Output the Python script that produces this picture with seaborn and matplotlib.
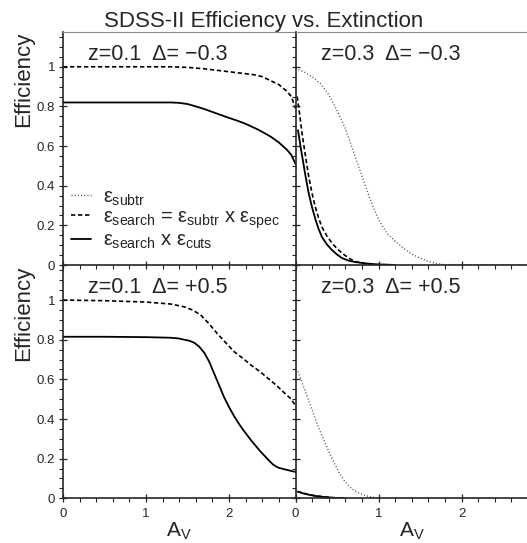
import numpy as np
import pandas as pd
import matplotlib
matplotlib.use("Agg")
import matplotlib.pyplot as plt
from matplotlib.lines import Line2D
from matplotlib.ticker import MultipleLocator, FormatStrFormatter
import seaborn as sns

# --- data (A_V, efficiency) ---
# z=0.1, Delta=-0.3
tl_search_av = [0, 1.3, 1.5, 1.7, 1.9, 2.1, 2.3, 2.4, 2.5, 2.6, 2.7, 2.75, 2.8]
tl_search = [1.0, 1.0, 0.997, 0.99, 0.98, 0.97, 0.96, 0.95, 0.93, 0.91, 0.875, 0.85, 0.79]
tl_cuts_av = [0, 1.3, 1.4, 1.5, 1.6, 1.7, 1.8, 1.9, 2.0, 2.1, 2.2, 2.35, 2.5, 2.6,
              2.7, 2.75, 2.8]
tl_cuts = [0.82, 0.82, 0.818, 0.812, 0.80, 0.787, 0.772, 0.757, 0.742, 0.728, 0.712,
           0.683, 0.648, 0.618, 0.58, 0.555, 0.51]

# z=0.3, Delta=-0.3
tr_subtr_av = [0, 0.1, 0.2, 0.3, 0.4, 0.5, 0.6, 0.7, 0.8, 0.9, 1.0, 1.1, 1.2, 1.3,
               1.4, 1.5, 1.6, 1.7, 1.8, 2.8]
tr_subtr = [0.99, 0.975, 0.95, 0.915, 0.86, 0.78, 0.69, 0.57, 0.45, 0.33, 0.23, 0.16,
            0.12, 0.085, 0.055, 0.035, 0.018, 0.007, 0.002, 0.0]
tr_search_av = [0.02, 0.05, 0.08, 0.12, 0.16, 0.2, 0.24, 0.28, 0.32, 0.38, 0.44, 0.5,
                0.56, 0.64, 0.72, 0.85, 1.0]
tr_search = [0.85, 0.76, 0.66, 0.55, 0.445, 0.36, 0.29, 0.235, 0.19, 0.145, 0.11,
             0.083, 0.06, 0.035, 0.017, 0.006, 0.0]
tr_cuts_av = [0.03, 0.06, 0.08, 0.12, 0.16, 0.2, 0.24, 0.28, 0.32, 0.38, 0.44, 0.5,
              0.56, 0.64, 0.72, 0.84, 0.96, 1.2]
tr_cuts = [0.68, 0.6, 0.55, 0.45, 0.36, 0.29, 0.23, 0.18, 0.14, 0.103, 0.075, 0.053,
           0.035, 0.022, 0.015, 0.008, 0.004, 0.0]

# z=0.1, Delta=+0.5
bl_search_av = [0, 0.5, 1.0, 1.3, 1.46, 1.56, 1.66, 1.76, 1.86, 1.96, 2.06, 2.17, 2.27,
                2.37, 2.47, 2.57, 2.67, 2.75, 2.81]
bl_search = [1.0, 0.997, 0.99, 0.98, 0.966, 0.95, 0.924, 0.88, 0.83, 0.785, 0.74, 0.705,
             0.67, 0.64, 0.605, 0.57, 0.53, 0.5, 0.46]
bl_cuts_av = [0, 0.5, 1.0, 1.3, 1.4, 1.46, 1.52, 1.58, 1.64, 1.7, 1.76, 1.82, 1.88,
              1.94, 2.0, 2.06, 2.12, 2.17, 2.27, 2.37, 2.47, 2.53, 2.59, 2.65, 2.7, 2.81]
bl_cuts = [0.815, 0.815, 0.813, 0.81, 0.806, 0.80, 0.795, 0.785, 0.765, 0.735, 0.69,
           0.63, 0.57, 0.51, 0.46, 0.415, 0.375, 0.345, 0.29, 0.24, 0.195, 0.17, 0.155,
           0.148, 0.143, 0.132]

# z=0.3, Delta=+0.5
br_subtr_av = [0.03, 0.1, 0.17, 0.23, 0.29, 0.35, 0.41, 0.47, 0.53, 0.59, 0.65, 0.71,
               0.77, 0.85, 0.93, 1.05, 2.4]
br_subtr = [0.64, 0.56, 0.48, 0.41, 0.345, 0.285, 0.227, 0.175, 0.126, 0.088, 0.058,
            0.038, 0.025, 0.013, 0.006, 0.0, 0.0]
br_search_av = [0.02, 0.1, 0.17, 0.25, 0.33, 0.45, 0.6]
br_search = [0.035, 0.025, 0.018, 0.012, 0.008, 0.003, 0.0]
br_cuts_av = [0.03, 0.1, 0.17, 0.25, 0.33, 0.45, 0.6]
br_cuts = [0.033, 0.024, 0.017, 0.011, 0.007, 0.003, 0.0]

panel_labels = {
    "tl": "z=0.1  \u0394= \u22120.3",
    "tr": "z=0.3  \u0394= \u22120.3",
    "bl": "z=0.1  \u0394= +0.5",
    "br": "z=0.3  \u0394= +0.5",
}

series = [
    ("tl", "search", tl_search_av, tl_search),
    ("tl", "cuts", tl_cuts_av, tl_cuts),
    ("tr", "subtr", tr_subtr_av, tr_subtr),
    ("tr", "search", tr_search_av, tr_search),
    ("tr", "cuts", tr_cuts_av, tr_cuts),
    ("bl", "search", bl_search_av, bl_search),
    ("bl", "cuts", bl_cuts_av, bl_cuts),
    ("br", "subtr", br_subtr_av, br_subtr),
    ("br", "search", br_search_av, br_search),
    ("br", "cuts", br_cuts_av, br_cuts),
]
df = pd.concat(
    [pd.DataFrame({"panel": p, "curve": c, "av": x, "eff": y}) for p, c, x, y in series],
    ignore_index=True,
)

sns.set_style("ticks")
plt.rcParams["font.family"] = ["Liberation Sans", "DejaVu Sans"]
plt.rcParams["mathtext.fontset"] = "custom"
plt.rcParams["mathtext.rm"] = "Liberation Sans"
plt.rcParams["mathtext.it"] = "Liberation Sans"

palette = {"subtr": "#444444", "search": "black", "cuts": "black"}
dashes = {"subtr": (0.7, 1.6), "search": (2.6, 1.6), "cuts": ""}
widths = {"subtr": 1.0, "search": 1.2, "cuts": 1.3}

W, H = 527, 543
fig = plt.figure(figsize=(W / 100, H / 100), dpi=100)
x_left, x_div, panel_w = 63, 295.5, 232.5
y_top, y_mid, panel_h = 31.7, 265, 233.3
pos = {
    "tl": [x_left / W, 1 - y_mid / H, panel_w / W, panel_h / H],
    "tr": [x_div / W, 1 - y_mid / H, panel_w / W, panel_h / H],
    "bl": [x_left / W, 1 - (y_mid + panel_h) / H, panel_w / W, panel_h / H],
    "br": [x_div / W, 1 - (y_mid + panel_h) / H, panel_w / W, panel_h / H],
}

for key, rect in pos.items():
    ax = fig.add_axes(rect)
    sub = df[df["panel"] == key]
    for curve, grp in sub.groupby("curve"):
        sns.lineplot(data=grp, x="av", y="eff", ax=ax, color=palette[curve],
                     lw=widths[curve], estimator=None, sort=False, legend=False,
                     dashes=False)
        line = ax.lines[-1]
        if dashes[curve]:
            line.set_dashes(dashes[curve])
    ax.set_xlim(0, 2.8)
    ax.set_ylim(0, 1.177)
    ax.xaxis.set_major_locator(MultipleLocator(1))
    ax.xaxis.set_minor_locator(MultipleLocator(0.2))
    ax.yaxis.set_major_locator(MultipleLocator(0.2))
    ax.yaxis.set_minor_locator(MultipleLocator(0.05))
    ax.yaxis.set_major_formatter(FormatStrFormatter("%g"))
    ax.xaxis.set_major_formatter(FormatStrFormatter("%g"))
    ax.tick_params(which="major", direction="inout", length=6, width=0.9,
                   labelsize=9.5, pad=2.5)
    ax.tick_params(which="minor", direction="out", length=3, width=0.8)
    ax.tick_params(axis="x", which="major", pad=4)
    ax.set_xlabel("")
    ax.set_ylabel("")
    ax.spines["right"].set_visible(False)
    for s in ("left", "bottom"):
        ax.spines[s].set_linewidth(1.2)
    if key in ("tl", "tr"):
        ax.spines["top"].set_color("#888888")
        ax.tick_params(axis="x", labelbottom=False)
    else:
        ax.spines["top"].set_visible(False)
        ax.set_xlabel("A$_\\mathregular{V}$", fontsize=15)
        ax.xaxis.set_label_coords(0.5, -0.095)
    if key in ("tr", "br"):
        ax.tick_params(axis="y", labelleft=False)
    else:
        ax.set_ylabel("Efficiency", fontsize=16)
        ax.yaxis.set_label_coords(-0.125, 0.795)
    ax.text(0.108, 0.88, panel_labels[key], transform=ax.transAxes, fontsize=15.5,
            va="baseline", ha="left")
    ax.patch.set_alpha(0)

    if key == "tl":
        handles = [
            Line2D([], [], color=palette["subtr"], lw=widths["subtr"], dashes=dashes["subtr"]),
            Line2D([], [], color=palette["search"], lw=widths["search"], dashes=dashes["search"]),
            Line2D([], [], color=palette["cuts"], lw=widths["cuts"]),
        ]
        labels = [
            r"$\varepsilon_\mathregular{subtr}$",
            r"$\varepsilon_\mathregular{search}$ = $\varepsilon_\mathregular{subtr}$ x $\varepsilon_\mathregular{spec}$",
            r"$\varepsilon_\mathregular{search}$ x $\varepsilon_\mathregular{cuts}$",
        ]
        ax.legend(handles, labels, loc="lower left", bbox_to_anchor=(0.0, 0.025),
                  frameon=False, fontsize=14.5, handlelength=1.0, handletextpad=0.6,
                  labelspacing=0.0, borderpad=0.2, borderaxespad=0.2)

fig.text(0.5, 1 - 27 / H, "SDSS-II Efficiency vs. Extinction", ha="center",
         va="baseline", fontsize=16)

fig.savefig("out.png", dpi=100)
